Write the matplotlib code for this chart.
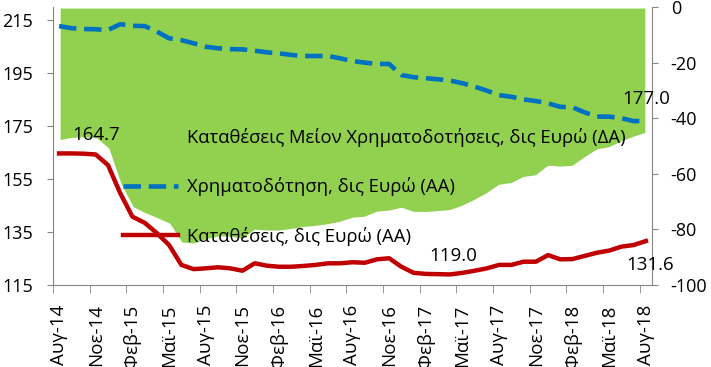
# -*- coding: utf-8 -*-
import numpy as np
import matplotlib
matplotlib.use("Agg")
import matplotlib.pyplot as plt
from matplotlib.patches import Patch
from matplotlib.lines import Line2D

# monthly data, Aug-14 .. Aug-18
deposits = [164.7, 164.7, 164.6, 164.3, 160.3, 149.7, 140.8, 138.5, 134.6, 130.1,
            122.6, 121.0, 121.3, 121.7, 121.3, 120.4, 123.2, 122.3, 121.9, 121.9,
            122.2, 122.6, 123.2, 123.2, 123.6, 123.4, 124.7, 125.1, 121.9, 119.6,
            119.2, 119.1, 119.0, 119.6, 120.4, 121.3, 122.6, 122.6, 123.8, 123.8,
            126.3, 124.7, 124.8, 126.0, 127.2, 128.0, 129.5, 130.1, 131.6]
loans = [212.8, 212.0, 211.7, 211.6, 211.3, 213.5, 212.9, 212.8, 210.7, 208.2,
         207.5, 206.3, 205.0, 204.4, 204.1, 204.0, 203.5, 202.9, 202.5, 201.9,
         201.5, 201.5, 201.5, 200.6, 199.6, 199.0, 198.5, 198.5, 194.3, 193.5,
         193.1, 192.7, 192.2, 191.2, 189.9, 188.4, 186.7, 186.1, 185.1, 184.5,
         183.6, 182.3, 182.1, 180.2, 178.6, 178.6, 178.0, 176.9, 177.0]
gap = [-48.1, -47.3, -47.1, -47.3, -51.0, -63.8, -72.1, -74.3, -76.1, -78.1,
       -84.9, -85.3, -83.7, -82.7, -82.8, -83.6, -80.3, -80.6, -80.6, -80.0,
       -79.3, -78.9, -78.3, -77.4, -76.0, -75.6, -73.8, -73.4, -72.4, -73.9,
       -73.9, -73.6, -73.2, -71.6, -69.5, -67.1, -64.1, -63.5, -61.3, -60.7,
       -57.3, -57.6, -57.3, -54.2, -51.4, -50.6, -48.5, -46.8, -45.4]
tick_labels = ["Αυγ-14", "Νοε-14", "Φεβ-15", "Μαϊ-15", "Αυγ-15", "Νοε-15",
               "Φεβ-16", "Μαϊ-16", "Αυγ-16", "Νοε-16", "Φεβ-17", "Μαϊ-17",
               "Αυγ-17", "Νοε-17", "Φεβ-18", "Μαϊ-18", "Αυγ-18"]

GREEN = "#92D050"
BLUE = "#0070C0"
RED = "#C00000"
GREY = "#868686"

plt.rcParams["font.family"] = ["Open Sans", "DejaVu Sans"]
plt.rcParams["axes.unicode_minus"] = False


def main():
    x = np.arange(len(deposits))

    fig = plt.figure(figsize=(7.11, 3.67), dpi=100)
    ax = fig.add_axes([0.0745, 0.2234, 0.8425, 0.7575])
    ax_r = ax.twinx()

    # area on the right axis, kept behind the lines
    ax_r.fill_between(x, gap, 0, facecolor=GREEN, edgecolor="white", linewidth=1.5)
    ax_r.set_ylim(-100, 0)
    ax_r.set_yticks(range(-100, 1, 20))
    ax.set_zorder(ax_r.get_zorder() + 1)
    ax.patch.set_visible(False)

    ax.plot(x, loans, color=BLUE, lw=3.3, dashes=(3.8, 1.7))
    ax.plot(x, deposits, color=RED, lw=3.2)

    ax.set_xlim(-0.5, len(x) - 0.5)
    ax.set_ylim(115, 220)
    ax.set_yticks(range(115, 216, 20))

    ax.set_xticks(range(0, len(x), 3))
    ax.set_xticklabels(tick_labels, rotation=90, fontsize=13.5)
    ax.set_xticks(np.arange(-0.5, len(x) - 1, 3), minor=True)
    ax.tick_params(axis="x", which="major", length=0, pad=14)
    ax.tick_params(axis="x", which="minor", length=6, color=GREY, direction="out")
    ax.tick_params(axis="y", length=4.5, color=GREY, direction="out", pad=10, labelsize=13)
    ax_r.tick_params(axis="y", length=4.5, color=GREY, direction="out", pad=9, labelsize=13)

    for s in ["top", "right"]:
        ax.spines[s].set_visible(False)
    for s in ["left", "bottom"]:
        ax.spines[s].set_color(GREY)
    for s in ["top", "left", "bottom"]:
        ax_r.spines[s].set_visible(False)
    ax_r.spines["right"].set_color(GREY)

    # value labels
    ax.annotate("164.7", (0, deposits[0]), xytext=(26.5, 13), textcoords="offset points",
                ha="center", va="center", fontsize=13.5)
    ax.annotate("177.0", (48, loans[-1]), xytext=(0, 16), textcoords="offset points",
                ha="center", va="center", fontsize=13.5)
    ax.annotate("119.0", (32, deposits[32]), xytext=(2, 13), textcoords="offset points",
                ha="center", va="center", fontsize=13.5)
    ax.annotate("131.6", (48, deposits[-1]), xytext=(3, -17.5), textcoords="offset points",
                ha="center", va="center", fontsize=13.5)

    handles = [Patch(facecolor=GREEN, edgecolor="none"),
               Line2D([], [], color=BLUE, lw=3.3, dashes=(3.8, 1.7)),
               Line2D([], [], color=RED, lw=3.2)]
    labels = ["Καταθέσεις Μείον Χρηματοδοτήσεις, δις Ευρώ (ΔΑ)",
              "Χρηματοδότηση, δις Ευρώ (ΑΑ)",
              "Καταθέσεις, δις Ευρώ (ΑΑ)"]
    ax.legend(handles, labels, loc="upper left", bbox_to_anchor=(0.173, 0.652),
              bbox_transform=fig.transFigure, frameon=False, fontsize=13.3,
              handlelength=3.0, handletextpad=0.45, labelspacing=1.65,
              borderpad=0, borderaxespad=0)

    fig.savefig("out.png", dpi=100)


if __name__ == '__main__':
    main()
